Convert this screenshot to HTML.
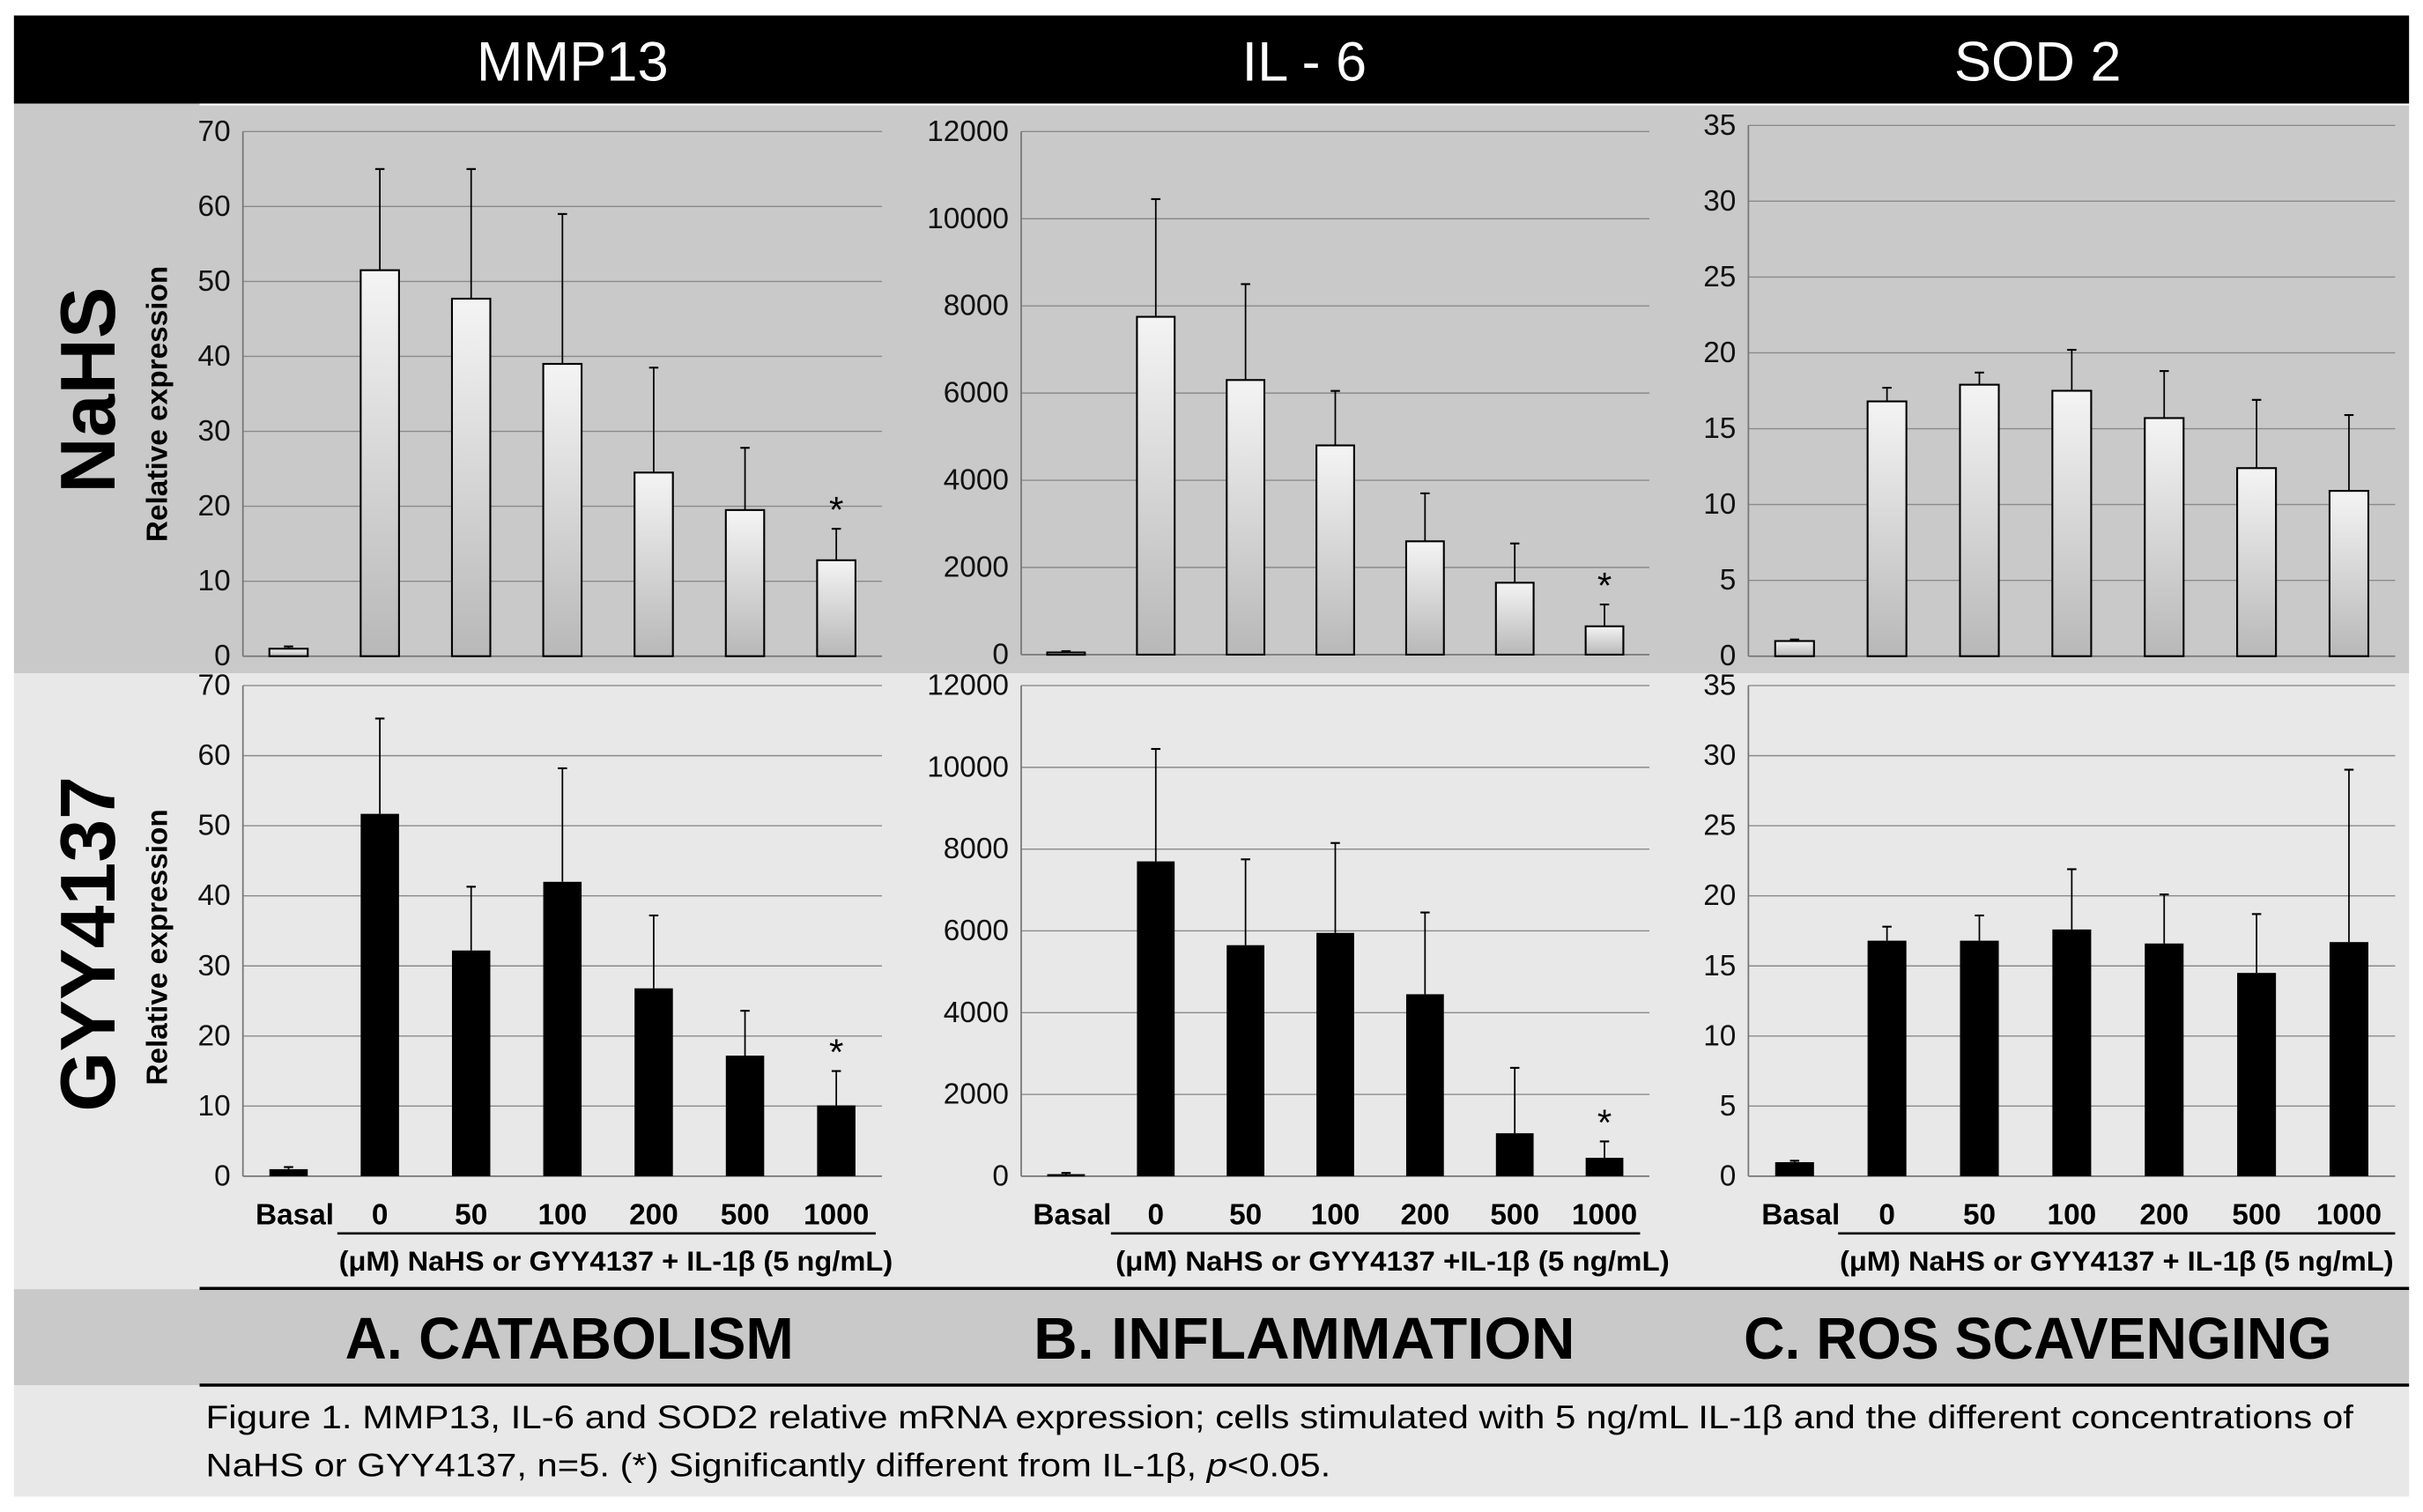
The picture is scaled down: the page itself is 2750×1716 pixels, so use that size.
<!DOCTYPE html>
<html><head><meta charset="utf-8"><style>
html,body{margin:0;padding:0;background:#fff;}
svg{display:block;font-family:"Liberation Sans",sans-serif;}
</style></head><body>
<svg id="fig" width="2750" height="1716" viewBox="0 0 1566 977" preserveAspectRatio="none" xmlns="http://www.w3.org/2000/svg">
<defs>
<linearGradient id="barGrad" x1="0" y1="0" x2="0" y2="1"><stop offset="0" stop-color="#f4f4f4"/><stop offset="1" stop-color="#b8b8b8"/></linearGradient>
</defs>
<rect x="0" y="0" width="1566" height="977" fill="#fff"/>
<rect x="9" y="10" width="1548" height="57" fill="#000"/>
<rect x="9" y="67" width="1548" height="368" fill="#c9c9c9"/>
<line x1="129" y1="67.5" x2="1557" y2="67.5" stroke="#fff" stroke-width="1.2"/>
<rect x="9" y="435" width="1548" height="398" fill="#e8e8e8"/>
<rect x="9" y="833" width="1548" height="62" fill="#c9c9c9"/>
<rect x="9" y="895" width="1548" height="72" fill="#e8e8e8"/>
<line x1="129" y1="832.5" x2="1557" y2="832.5" stroke="#000" stroke-width="2"/>
<line x1="129" y1="895" x2="1557" y2="895" stroke="#000" stroke-width="2"/>

<text x="370" y="52" font-size="36" fill="#fff" text-anchor="middle">MMP13</text>
<text x="843" y="52" font-size="36" fill="#fff" text-anchor="middle">IL - 6</text>
<text x="1317" y="52" font-size="36" fill="#fff" text-anchor="middle">SOD 2</text>

<text transform="translate(74,252) rotate(-90)" font-size="50" font-weight="bold" text-anchor="middle">NaHS</text>
<text transform="translate(74,610) rotate(-90)" font-size="50" font-weight="bold" text-anchor="middle">GYY4137</text>
<text transform="translate(108,261) rotate(-90)" font-size="19" font-weight="bold" text-anchor="middle">Relative expression</text>
<text transform="translate(108,612) rotate(-90)" font-size="19" font-weight="bold" text-anchor="middle">Relative expression</text>

<text x="368" y="878" font-size="38" font-weight="bold" text-anchor="middle" textLength="290" lengthAdjust="spacingAndGlyphs">A. CATABOLISM</text>
<text x="843" y="878" font-size="38" font-weight="bold" text-anchor="middle" textLength="350" lengthAdjust="spacingAndGlyphs">B. INFLAMMATION</text>
<text x="1317" y="878" font-size="38" font-weight="bold" text-anchor="middle" textLength="380" lengthAdjust="spacingAndGlyphs">C. ROS SCAVENGING</text>

<text x="133" y="923" font-size="21" textLength="1388" lengthAdjust="spacingAndGlyphs">Figure 1. MMP13, IL-6 and SOD2 relative mRNA expression; cells  stimulated with 5 ng/mL IL-1β and the different concentrations of</text>
<text x="133" y="954" font-size="21" textLength="727" lengthAdjust="spacingAndGlyphs">NaHS or GYY4137, n=5. (*) Significantly different from IL-1β,  <tspan font-style="italic">p</tspan>&lt;0.05.</text>
<g id="charts"></g>
</svg>
<script>
const categories = ["Basal","0","50","100","200","500","1000"];
const mmpTicks = [0,10,20,30,40,50,60,70];
const ilTicks = [0,2000,4000,6000,8000,10000,12000];
const sodTicks = [0,5,10,15,20,25,30,35];
const mmpNaHS = [1,51.5,47.7,39,24.5,19.5,12.8];
const mmpNaHSErr = [1.3,65,65,59,38.5,27.8,17];
const mmpGYY = [1,51.7,32.2,42,26.8,17.2,10.1];
const mmpGYYErr = [1.3,65.3,41.3,58.2,37.2,23.6,15];
const ilNaHS = [50,7750,6300,4800,2600,1650,650];
const ilNaHSErr = [80,10450,8500,6050,3700,2550,1150];
const ilGYY = [50,7700,5650,5950,4450,1050,450];
const ilGYYErr = [80,10450,7750,8150,6450,2650,850];
const sodNaHS = [1,16.8,17.9,17.5,15.7,12.4,10.9];
const sodNaHSErr = [1.1,17.7,18.7,20.2,18.8,16.9,15.9];
const sodGYY = [1,16.8,16.8,17.6,16.6,14.5,16.7];
const sodGYYErr = [1.1,17.8,18.6,21.9,20.1,18.7,29];
const mmpStars = [false,false,false,false,false,false,true];
const ilStars = [false,false,false,false,false,false,true];
const sodStars = [false,false,false,false,false,false,false];

const NS="http://www.w3.org/2000/svg";
const root=document.getElementById('charts');
function el(t,a,p){const e=document.createElementNS(NS,t);for(const k in a)e.setAttribute(k,a[k]);(p||root).appendChild(e);return e;}

function chart(id,x0,x1,yTop,yBot,ticks,vals,errs,stars,dark,xlabels,subLabel,subX,ul){
  const g=el('g',{});
  
  
  const max=ticks[ticks.length-1];
  const yS=v=>yBot-(v/max)*(yBot-yTop);
  const step=(x1-x0)/categories.length;
  const xS=i=>x0+step*(i+0.5);
  ticks.forEach(t=>{
    const y=yS(t);
    if(t>0){const l=el('line',{x1:x0,x2:x1,y1:y,y2:y,stroke:'#8a8a8a','stroke-width':0.8},g);
      }
    const tx=el('text',{x:x0-8,y:y+6,'font-size':19,'text-anchor':'end',fill:'#111'},g);
    
    tx.textContent=t;
  });
  el('line',{x1:x0,x2:x0,y1:yTop,y2:yBot,stroke:'#777','stroke-width':1},g);
  el('line',{x1:x0,x2:x1,y1:yBot,y2:yBot,stroke:'#777','stroke-width':1},g);
  const bw=step*0.42;
  vals.forEach((v,i)=>{
    const cx=xS(i), ey=yS(errs[i]), vy=yS(v);
    const eb=el('line',{x1:cx,x2:cx,y1:ey,y2:vy,stroke:'#000','stroke-width':1},g);
    
    el('line',{x1:cx-3,x2:cx+3,y1:ey,y2:ey,stroke:'#000','stroke-width':1.2},g);
    const r=el('rect',{x:cx-bw/2,y:vy,width:bw,height:Math.max(yBot-vy,1.5),fill:dark?'#000':'url(#barGrad)',stroke:'#000','stroke-width':dark?0:1.2},g);
    
    
    if(stars[i]){const s=el('text',{x:cx,y:ey-4,'font-size':24,'text-anchor':'middle'},g);
      s.textContent='*';}
  });
  if(xlabels){
    categories.forEach((c,i)=>{
      const t=el('text',{x:xS(i)+(i==0?4:0),y:yBot+31,'font-size':19,'font-weight':'bold','text-anchor':'middle'},g);
      
      t.textContent=c;
    });
    el('line',{x1:ul[0],x2:ul[1],y1:yBot+37,y2:yBot+37,stroke:'#000','stroke-width':1.5},g);
    const s=el('text',{x:subX,y:yBot+61,'font-size':18,'font-weight':'bold','text-anchor':'middle',textLength:358,lengthAdjust:'spacingAndGlyphs'},g);
    
    s.textContent=subLabel;
  }
}
chart('mmp13-nahs-chart',157,570,85,424,mmpTicks,mmpNaHS,mmpNaHSErr,mmpStars,false);
chart('il6-nahs-chart',660,1066,85,423,ilTicks,ilNaHS,ilNaHSErr,ilStars,false);
chart('sod2-nahs-chart',1130,1548,81,424,sodTicks,sodNaHS,sodNaHSErr,sodStars,false);
chart('mmp13-gyy-chart',157,570,443,760,mmpTicks,mmpGYY,mmpGYYErr,mmpStars,true,true,'(μM) NaHS or GYY4137 + IL-1β (5 ng/mL)',398,[218,566]);
chart('il6-gyy-chart',660,1066,443,760,ilTicks,ilGYY,ilGYYErr,ilStars,true,true,'(μM) NaHS or GYY4137 +IL-1β (5 ng/mL)',900,[718,1060]);
chart('sod2-gyy-chart',1130,1548,443,760,sodTicks,sodGYY,sodGYYErr,sodStars,true,true,'(μM) NaHS or GYY4137 + IL-1β (5 ng/mL)',1368,[1188,1548]);
</script>
</body></html>
